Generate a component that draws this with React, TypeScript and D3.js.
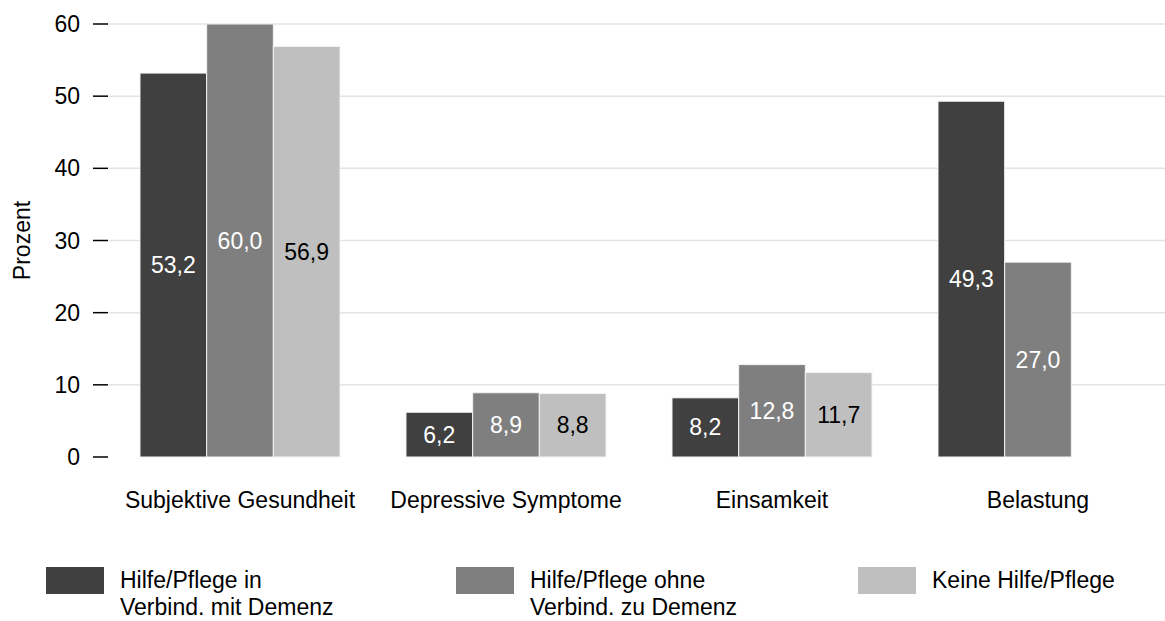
import React from "react";
import * as d3 from "d3";

const categories = ["Subjektive Gesundheit", "Depressive Symptome", "Einsamkeit", "Belastung"];
const seriesNames = ["Hilfe/Pflege in Verbind. mit Demenz", "Hilfe/Pflege ohne Verbind. zu Demenz", "Keine Hilfe/Pflege"];
const legendLines = [["Hilfe/Pflege in", "Verbind. mit Demenz"], ["Hilfe/Pflege ohne", "Verbind. zu Demenz"], ["Keine Hilfe/Pflege"]];
const demenz = [53.2, 6.2, 8.2, 49.3];
const ohneDemenz = [60.0, 8.9, 12.8, 27.0];
const keine: (number | null)[] = [56.9, 8.8, 11.7, null];
const yTicks = [0, 10, 20, 30, 40, 50, 60];

const colors = ["#404040", "#7f7f7f", "#bfbfbf"];
const labelColors = ["#ffffff", "#ffffff", "#000000"];

export default function App() {
  const W = 1165, H = 621;
  const font = "'Liberation Sans', Arial, sans-serif";
  const fs = 23;
  const x = d3.scaleBand<string>().domain(categories).range([107, 1171]).paddingInner(0.248).paddingOuter(0.124);
  const xi = d3.scaleBand<number>().domain([0, 1, 2]).range([0, x.bandwidth()]);
  const y = d3.scaleLinear().domain([0, 60]).range([457, 24]);
  const series = [demenz, ohneDemenz, keine];
  const fmt = (v: number) => v.toFixed(1).replace(".", ",");
  const legendX = [46, 456, 858];

  return (
    <svg width={W} height={H} style={{ position: "absolute", left: 0, top: 0 }} fontFamily={font}>
      <rect width={W} height={H} fill="#fff" />
      {yTicks.filter(t => t > 0).map(t => (
        <line key={"g" + t} x1={109} x2={W} y1={y(t)} y2={y(t)} stroke="#e3e3e3" strokeWidth={1.5} />
      ))}
      {yTicks.map(t => (
        <g key={"t" + t}>
          <line x1={93} x2={108} y1={y(t)} y2={y(t)} stroke="#000" strokeWidth={1.5} />
          <text x={80} y={y(t)} textAnchor="end" dominantBaseline="central" fontSize={fs}>{t}</text>
        </g>
      ))}
      <text transform={`translate(22,${(y(0) + y(60)) / 2}) rotate(-90)`} textAnchor="middle" dominantBaseline="central" fontSize={fs}>Prozent</text>
      {categories.map((c, ci) => (
        <g key={c} transform={`translate(${x(c)},0)`}>
          {series.map((s, si) => {
            const v = s[ci];
            if (v == null) return null;
            const bx = xi(si)!;
            const bw = xi.bandwidth();
            return (
              <g key={si}>
                <rect x={bx} y={y(v)} width={bw} height={y(0) - y(v)} fill={colors[si]} stroke="#f4f4f4" strokeWidth={1} />
                <text x={bx + bw / 2} y={(y(v) + y(0)) / 2} textAnchor="middle" dominantBaseline="central" fontSize={fs} fill={labelColors[si]}>{fmt(v)}</text>
              </g>
            );
          })}
          <text x={x.bandwidth() / 2} y={500} textAnchor="middle" dominantBaseline="central" fontSize={fs}>{c}</text>
        </g>
      ))}
      {seriesNames.map((n, i) => (
        <g key={n}>
          <rect x={legendX[i]} y={567} width={58} height={27} fill={colors[i]} />
          <text x={legendX[i] + 74} y={588} fontSize={fs}>
            {legendLines[i].map((l, li) => (
              <tspan key={li} x={legendX[i] + 74} dy={li === 0 ? 0 : 27}>{l}</tspan>
            ))}
          </text>
        </g>
      ))}
    </svg>
  );
}
